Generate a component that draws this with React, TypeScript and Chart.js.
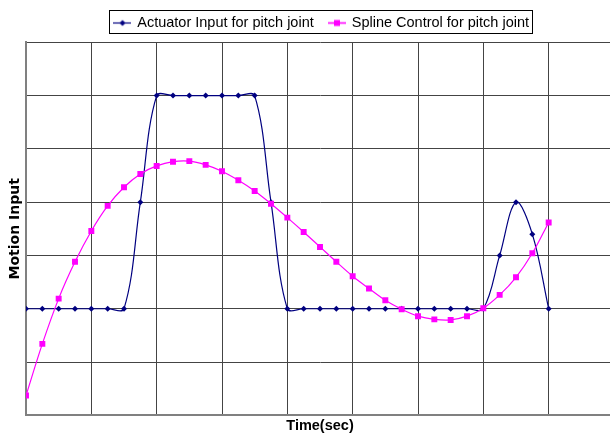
import React, { useEffect, useRef } from "react";
import { Chart, registerables } from "chart.js";

Chart.register(...registerables);

// ---- data ----
const timeSteps = [0, 1, 2, 3, 4, 5, 6, 7, 8, 9, 10, 11, 12, 13, 14, 15, 16, 17, 18, 19, 20, 21, 22, 23, 24, 25, 26, 27, 28, 29, 30, 31, 32];
const actuatorInput = [0, 0, 0, 0, 0, 0, 0, 2, 4, 4, 4, 4, 4, 4, 4, 2, 0, 0, 0, 0, 0, 0, 0, 0, 0, 0, 0, 0, 0, 1, 2, 1.4, 0];
const splineControl = [-1.63, -0.66, 0.19, 0.88, 1.46, 1.93, 2.28, 2.53, 2.68, 2.76, 2.77, 2.7, 2.58, 2.41, 2.21, 1.97, 1.71, 1.44, 1.16, 0.88, 0.61, 0.38, 0.16, -0.01, -0.14, -0.2, -0.21, -0.14, 0.01, 0.26, 0.59, 1.04, 1.62];
const seriesNames = ["Actuator Input for pitch joint", "Spline Control for pitch joint"];
const xTitle = "Time(sec)";
const yTitle = "Motion Input";
const xRange = [0, 36];
const yRange = [-2, 5];

const BLUE = "#000080";
const PINK = "#FF00FF";

function makeIcon(color: string, shape: "diamond" | "square") {
  const c = document.createElement("canvas");
  c.width = 18;
  c.height = 9;
  const ctx = c.getContext("2d")!;
  ctx.strokeStyle = color;
  ctx.lineWidth = shape === "diamond" ? 1.2 : 1.6;
  ctx.beginPath();
  ctx.moveTo(0, 4.5);
  ctx.lineTo(18, 4.5);
  ctx.stroke();
  ctx.fillStyle = color;
  if (shape === "diamond") {
    ctx.beginPath();
    ctx.moveTo(9, 1.5);
    ctx.lineTo(12, 4.5);
    ctx.lineTo(9, 7.5);
    ctx.lineTo(6, 4.5);
    ctx.closePath();
    ctx.fill();
  } else {
    ctx.fillRect(6, 1.5, 6, 6);
  }
  return c;
}

const legendBorder = {
  id: "legendBorder",
  afterDraw(chart: any) {
    const hb = chart.legend && chart.legend.legendHitBoxes;
    if (!hb || !hb.length) return;
    const first = hb[0];
    const last = hb[hb.length - 1];
    const ctx = chart.ctx;
    ctx.save();
    ctx.strokeStyle = "#000";
    ctx.lineWidth = 1;
    const l = Math.round(first.left - 6) + 0.5;
    const r = Math.round(last.left + last.width + 3) + 0.5;
    const t = Math.round(first.top - 6) + 0.5;
    const b = Math.round(first.top + first.height + 3) + 0.5;
    ctx.strokeRect(l, t, r - l, b - t);
    ctx.restore();
  },
};

export default function App() {
  const ref = useRef<HTMLCanvasElement | null>(null);

  useEffect(() => {
    if (!ref.current) return;
    Chart.defaults.font.family = "'Liberation Sans', Arial, sans-serif";
    Chart.defaults.color = "#000";
    const icons = [makeIcon(BLUE, "diamond"), makeIcon(PINK, "square")];

    const chart = new Chart(ref.current, {
      type: "line",
      data: {
        datasets: [
          {
            label: seriesNames[0],
            data: timeSteps.map((t, i) => ({ x: t, y: actuatorInput[i] })),
            borderColor: BLUE,
            backgroundColor: BLUE,
            borderWidth: 1.2,
            pointStyle: "rectRot",
            pointRadius: 3,
            pointBorderWidth: 0,
            tension: 0.36,
            fill: false,
            order: 1,
          },
          {
            label: seriesNames[1],
            data: timeSteps.map((t, i) => ({ x: t, y: splineControl[i] })),
            borderColor: PINK,
            backgroundColor: PINK,
            borderWidth: 1.2,
            pointStyle: "rect",
            pointRadius: 4.2,
            pointBorderWidth: 0,
            tension: 0.35,
            fill: false,
            order: 0,
          },
        ],
      },
      options: {
        animation: false,
        responsive: false,
        maintainAspectRatio: false,
        layout: { padding: { left: 4, right: 0, top: 0, bottom: 5.35 } },
        plugins: {
          tooltip: { enabled: false },
          legend: {
            display: true,
            position: "top",
            labels: {
              usePointStyle: true,
              pointStyleWidth: 15,
              padding: 15.75,
              font: { size: 14.5 },
              color: "#000",
              generateLabels: (ch: any) =>
                (Chart.defaults.plugins.legend.labels.generateLabels as any)(ch)
                  .sort((a: any, b: any) => a.datasetIndex - b.datasetIndex)
                  .map((it: any) => ({ ...it, pointStyle: icons[it.datasetIndex] })),
            },
          },
        },
        scales: {
          x: {
            type: "linear",
            position: "bottom",
            min: xRange[0],
            max: xRange[1],
            ticks: { display: false, stepSize: 4 },
            grid: { color: "#444", lineWidth: 1, drawTicks: false },
            border: { color: "#808080", width: 2 },
            title: {
              display: true,
              text: xTitle,
              font: { size: 14.5, weight: "bold", lineHeight: 1 },
              padding: { top: 3.85, bottom: 0 },
              color: "#000",
            },
          },
          y: {
            type: "linear",
            position: "left",
            min: yRange[0],
            max: yRange[1],
            ticks: { display: false, stepSize: 1 },
            grid: { color: "#444", lineWidth: 1, drawTicks: false },
            border: { color: "#808080", width: 2 },
            title: {
              display: true,
              text: yTitle,
              font: { family: "'DejaVu Sans', sans-serif", size: 14, weight: "bold" },
              padding: { top: 3.1, bottom: 2.1 },
              color: "#000",
            },
          },
          ySpacer: {
            type: "linear",
            position: "right",
            display: true,
            ticks: { display: false },
            grid: { display: false, drawTicks: false },
            border: { display: false },
            afterFit: (s: any) => {
              s.width = 26;
            },
          },
          xSpacer: {
            type: "linear",
            position: "top",
            display: true,
            ticks: { display: false },
            grid: { display: false, drawTicks: false },
            border: { display: false },
            afterFit: (s: any) => {
              s.height = 2.05;
            },
          },
        },
      } as any,
      plugins: [legendBorder],
    });
    return () => chart.destroy();
  }, []);

  return (
    <div style={{ position: "fixed", left: 0, top: 0, width: 610, height: 439, overflow: "hidden", background: "#fff" }}>
      <canvas ref={ref} width={640} height={439} style={{ width: 640, height: 439, display: "block" }} />
    </div>
  );
}
